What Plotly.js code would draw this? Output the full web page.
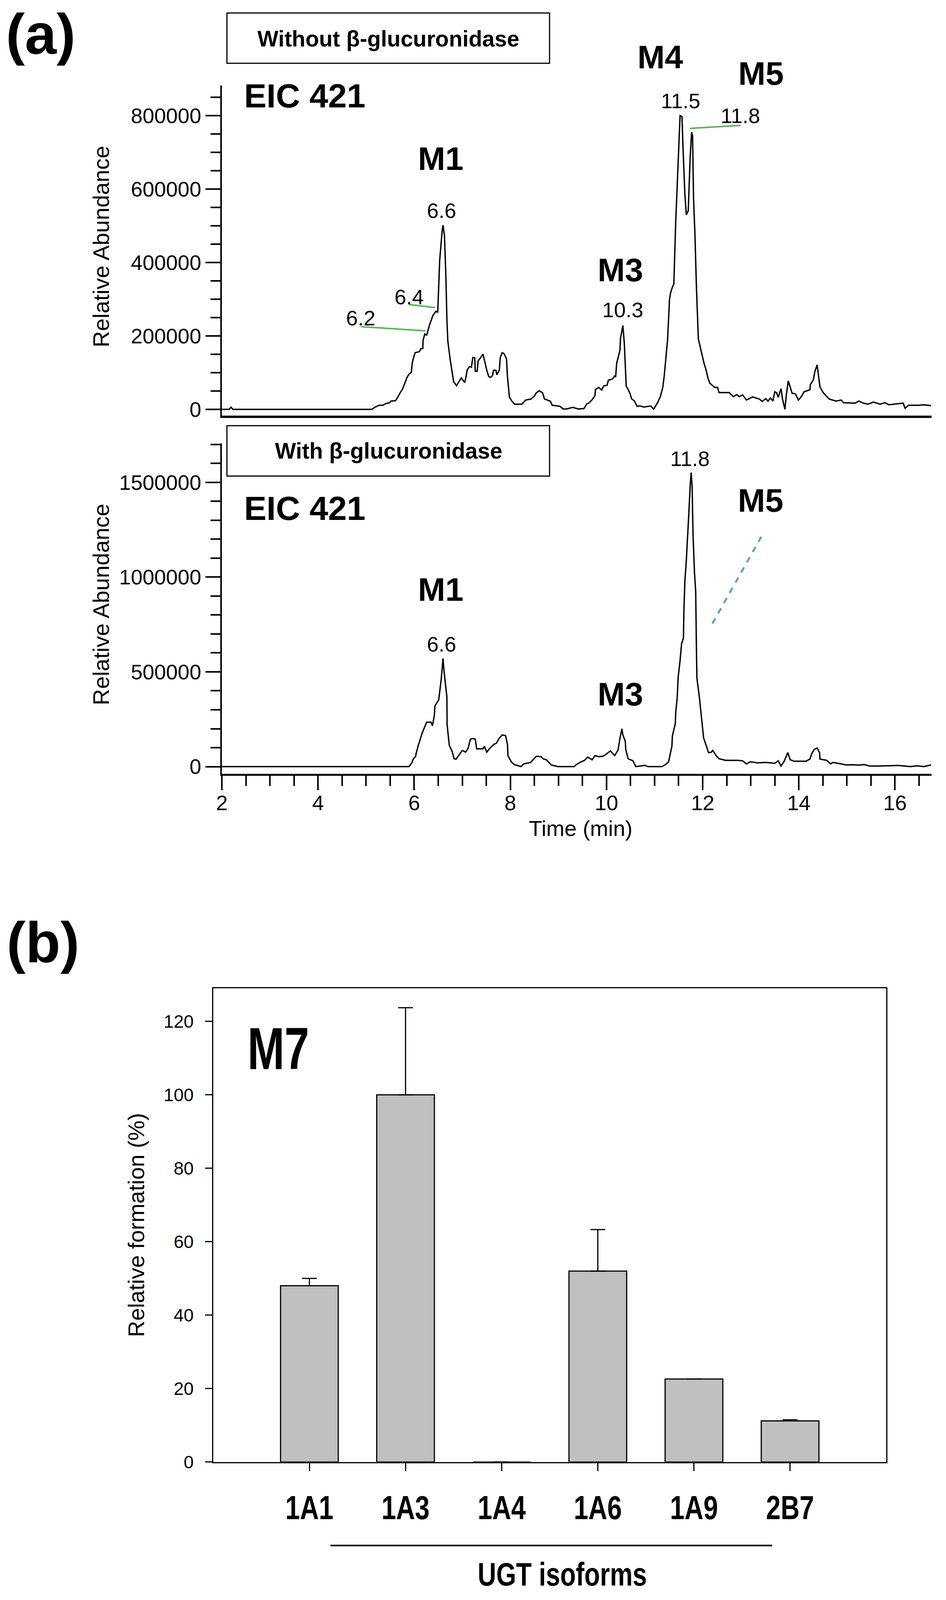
<!DOCTYPE html>
<html>
<head>
<meta charset="utf-8">
<script src="https://cdn.plot.ly/plotly-3.0.1.min.js"></script>
<style>
  html, body { margin: 0; padding: 0; background: #fff; overflow: hidden; }
</style>
</head>
<body>
<div id="chart"></div>
<script>
// EIC 421 without beta-glucuronidase (time in min, abundance)
const timeWithout = [
  2.00, 2.15, 2.19, 2.23, 5.05, 5.12, 5.18, 5.27, 5.35, 5.41, 5.49, 5.52, 5.61, 5.66, 5.72, 5.76,
  5.81, 5.85, 5.89, 5.94, 5.96, 5.98, 6.02, 6.11, 6.14, 6.18, 6.185, 6.22, 6.26, 6.32, 6.39, 6.45,
  6.49, 6.50, 6.53, 6.58, 6.60, 6.63, 6.66, 6.68, 6.70, 6.75, 6.80, 6.82, 6.88, 6.92, 6.98, 7.05,
  7.08, 7.10, 7.15, 7.19, 7.22, 7.26, 7.27, 7.31, 7.33, 7.38, 7.43, 7.47, 7.51, 7.55, 7.59, 7.63,
  7.65, 7.70, 7.72, 7.77, 7.79, 7.83, 7.87, 7.92, 7.94, 7.98, 8.03, 8.09, 8.24, 8.32, 8.43, 8.50,
  8.54, 8.60, 8.67, 8.71, 8.83, 8.87, 9.03, 9.10, 9.17, 9.30, 9.41, 9.53, 9.59, 9.64, 9.70, 9.76,
  9.77, 9.84, 9.90, 9.94, 10.01, 10.04, 10.12, 10.17, 10.19, 10.21, 10.28, 10.29, 10.34, 10.37, 10.41, 10.45,
  10.49, 10.52, 10.58, 10.63, 10.69, 10.78, 10.92, 10.98, 11.06, 11.12, 11.17, 11.20, 11.23, 11.27, 11.31, 11.33,
  11.37, 11.40, 11.44, 11.47, 11.50, 11.53, 11.57, 11.59, 11.63, 11.66, 11.70, 11.74, 11.77, 11.79, 11.81, 11.84,
  11.87, 11.91, 11.95, 12.00, 12.03, 12.07, 12.11, 12.15, 12.20, 12.25, 12.31, 12.34, 12.48, 12.55, 12.64, 12.71,
  12.76, 12.83, 12.91, 13.04, 13.18, 13.24, 13.31, 13.36, 13.41, 13.46, 13.50, 13.54, 13.57, 13.63, 13.66, 13.71,
  13.74, 13.78, 13.82, 13.86, 13.93, 13.99, 14.04, 14.11, 14.23, 14.24, 14.30, 14.33, 14.38, 14.44, 14.51, 14.58,
  14.63, 14.77, 14.88, 14.93, 15.17, 15.25, 15.34, 15.44, 15.55, 15.69, 15.79, 15.87, 16.06, 16.17, 16.21, 16.28,
  16.39, 16.50, 16.60, 16.75
];
const abundanceWithout = [
  0, 0, 6000, 0, 0, 0, 5600, 11000, 11000, 15800, 18000, 22500, 23500, 33600, 47700, 55900,
  72800, 86800, 95300, 100900, 126200, 137500, 154300, 157200, 165600, 165600, 188100, 205000, 202000, 230300, 255600, 266900,
  265000, 303400, 404600, 483400, 501400, 472100, 359500, 247000, 185200, 134600, 95300, 75600, 64400, 72800, 85700, 72800,
  89600, 106500, 116600, 114900, 141400, 140300, 103700, 103700, 131800, 140300, 150400, 129000, 106500, 89600, 86800, 92400,
  106500, 106500, 94100, 106500, 140300, 154300, 151500, 137500, 89600, 33600, 22500, 14000, 14000, 25300, 28100, 36500,
  45000, 50600, 45000, 28100, 22500, 11300, 8400, 1100, 1100, 5500, 1000, 2100, 14800, 17600, 26000, 37300,
  54200, 59800, 52500, 63700, 65400, 79500, 82300, 90700, 87900, 124500, 161100, 192000, 228600, 180700, 62600, 54200,
  42900, 28800, 23200, 9100, 9100, 6300, 9100, 600, 17600, 34500, 59800, 90700, 130100, 189200, 298900, 315800,
  332700, 341100, 512700, 614000, 715300, 799700, 796900, 715300, 585800, 529500, 540800, 687100, 754600, 743400, 574500, 473200,
  332700, 192000, 169500, 141300, 124500, 107600, 85100, 71000, 65400, 59800, 59800, 45700, 45700, 45700, 34500, 40100,
  34500, 39400, 25300, 33700, 28100, 21400, 29200, 22500, 30900, 22500, 47800, 45000, 32600, 56200, 28100, 0,
  39400, 77600, 60800, 43900, 42200, 25300, 32600, 47800, 53400, 67500, 79900, 101300, 121000, 60800, 45000, 34900,
  28100, 22500, 25300, 18100, 16900, 22500, 16900, 14100, 19700, 14100, 18100, 12400, 15800, 16900, 2800, 11200,
  11200, 11200, 12400, 10100
];

// EIC 421 with beta-glucuronidase
const timeWith = [
  2.00, 5.89, 5.95, 5.98, 6.03, 6.04, 6.08, 6.11, 6.14, 6.16, 6.22, 6.26, 6.35, 6.38, 6.42, 6.43,
  6.51, 6.56, 6.60, 6.62, 6.68, 6.685, 6.73, 6.79, 6.83, 6.87, 7.00, 7.07, 7.12, 7.17, 7.22, 7.27,
  7.30, 7.43, 7.46, 7.51, 7.57, 7.66, 7.71, 7.77, 7.83, 7.90, 7.94, 7.95, 8.02, 8.08, 8.22, 8.28,
  8.42, 8.48, 8.54, 8.64, 8.68, 8.75, 8.85, 8.99, 9.33, 9.36, 9.47, 9.54, 9.61, 9.70, 9.76, 9.84,
  9.93, 9.98, 10.08, 10.17, 10.24, 10.28, 10.32, 10.34, 10.39, 10.40, 10.45, 10.55, 10.61, 10.80, 10.86, 11.15,
  11.23, 11.29, 11.36, 11.37, 11.43, 11.44, 11.47, 11.49, 11.53, 11.56, 11.60, 11.61, 11.63, 11.66, 11.68, 11.71,
  11.74, 11.76, 11.78, 11.80, 11.83, 11.855, 11.87, 11.88, 11.93, 11.99, 12.02, 12.08, 12.12, 12.17, 12.21, 12.28,
  12.34, 12.48, 12.73, 12.83, 12.91, 12.99, 13.15, 13.31, 13.50, 13.57, 13.63, 13.70, 13.77, 13.82, 13.90, 14.15,
  14.23, 14.27, 14.32, 14.38, 14.43, 14.44, 14.58, 14.66, 14.71, 14.88, 14.98, 15.12, 15.25, 15.36, 15.47, 15.66,
  16.06, 16.33, 16.45, 16.60, 16.75
];
const abundanceWith = [
  0, 0, 19600, 39300, 54600, 68800, 107000, 131000, 150600, 172400, 210600, 234500, 234500, 216000, 270600, 319600,
  352300, 455900, 570300, 505000, 368700, 221500, 112500, 79800, 41600, 39300, 85200, 76500, 96100, 145200, 148500, 145200,
  94000, 94000, 107000, 76500, 96100, 117900, 123400, 150600, 167000, 163700, 117900, 57900, 25200, 11000, 0, 14200,
  21800, 39300, 54600, 52400, 41500, 36000, 8700, 0, 0, 8700, 25000, 32600, 50000, 36000, 57900, 52400,
  54600, 63300, 83000, 57900, 87300, 150600, 199700, 167000, 134300, 90700, 41600, 30700, 0, 6500, 0, 0,
  11000, 25200, 107000, 161400, 226900, 286800, 363100, 472100, 559300, 646500, 679200, 826400, 979000, 1088000, 1175300, 1327900,
  1480500, 1551400, 1480500, 1218900, 1022700, 923200, 619300, 466800, 368700, 216000, 150600, 107000, 74300, 74300, 85200, 57900,
  41600, 32900, 32900, 30700, 14400, 25300, 19800, 22000, 17600, 30700, 3300, 30700, 74300, 36200, 28600, 28600,
  39600, 69000, 90700, 98300, 74300, 39600, 33100, 14400, 22000, 14400, 8900, 10000, 7800, 11000, 3300, 3300,
  6000, 0, 4000, 0, 8700
];

// (b) M7 formation by UGT isoform
const isoforms = ['1A1', '1A3', '1A4', '1A6', '1A9', '2B7'];
const formation = [48, 100, 0, 52, 22.6, 11.2];
const formationErr = [2, 23.7, 0, 11.3, 0, 0.3];

// positions below are measured on the 2422 x 4198 figure and turned into paper fractions;
// the plot itself is sized to the visible window so the whole figure stays in view
const REF_W = 2422, REF_H = 4198;
const W = window.innerWidth || REF_W;
const H = Math.min(window.innerHeight || REF_H, REF_H);
const px = v => v / REF_W;
const py = v => 1 - v / REF_H;

const SANS = 'Liberation Sans, Arial, Helvetica, sans-serif';

function label(text, x, y, size, opts) {
  opts = opts || {};
  return {
    text: text, xref: 'paper', yref: 'paper', x: px(x), y: py(y),
    xanchor: 'center', yanchor: 'middle', showarrow: false,
    textangle: opts.angle || 0,
    font: {family: SANS, size: size, color: '#000', weight: opts.bold ? 'bold' : 'normal'}
  };
}

function seg(x0, y0, x1, y1, color, width, dash) {
  return {type: 'line', xref: 'paper', yref: 'paper', x0: px(x0), y0: py(y0), x1: px(x1), y1: py(y1),
    line: {color: color, width: width, dash: dash || 'solid'}};
}

function box(x0, y0, x1, y1) {
  return {type: 'rect', xref: 'paper', yref: 'paper', x0: px(x0), y0: py(y0), x1: px(x1), y1: py(y1),
    line: {color: '#000', width: 3}, fillcolor: 'rgba(0,0,0,0)'};
}

const traces = [
  {x: timeWithout, y: abundanceWithout, xaxis: 'x', yaxis: 'y', type: 'scatter', mode: 'lines',
   line: {color: '#000', width: 3.5}, hoverinfo: 'skip'},
  {x: timeWith, y: abundanceWith, xaxis: 'x2', yaxis: 'y2', type: 'scatter', mode: 'lines',
   line: {color: '#000', width: 3.5}, hoverinfo: 'skip'},
  {x: isoforms, y: formation, xaxis: 'x3', yaxis: 'y3', type: 'bar', width: 0.6,
   marker: {color: '#c0c0c0', line: {color: '#000', width: 3}},
   error_y: {type: 'data', array: formationErr, arrayminus: isoforms.map(() => 0), symmetric: false,
             color: '#000', thickness: 3, width: 19}}
];

const tickFont = {family: SANS, size: 54, color: '#000'};
const timeRange = [2, 16.76];

const layout = {
  width: W, height: H,
  margin: {l: 0, r: 0, t: 0, b: 0},
  paper_bgcolor: '#fff', plot_bgcolor: 'rgba(0,0,0,0)',
  showlegend: false,
  xaxis: {domain: [px(568), px(2385)], anchor: 'y', range: timeRange, showline: true, linecolor: '#000',
          linewidth: 5.5, ticks: '', showticklabels: false, showgrid: false, zeroline: false},
  yaxis: {domain: [py(1091), py(224)], anchor: 'x', range: [-17600, 882000], showline: true, linecolor: '#000',
          linewidth: 4, ticks: 'outside', ticklen: 38, tickwidth: 4, tickcolor: '#000',
          tick0: 0, dtick: 200000, tickformat: 'd', tickfont: tickFont, showgrid: false, zeroline: false,
          minor: {ticks: 'outside', dtick: 50000, ticklen: 25, tickwidth: 4, tickcolor: '#000'}},
  xaxis2: {domain: [px(568), px(2385)], anchor: 'y2', range: timeRange, showline: true, linecolor: '#000',
           linewidth: 5.5, ticks: 'outside', ticklen: 37, tickwidth: 4, tickcolor: '#000',
           tick0: 2, dtick: 2, tickfont: tickFont, showgrid: false, zeroline: false,
           minor: {ticks: 'outside', dtick: 0.5, ticklen: 26, tickwidth: 4, tickcolor: '#000'}},
  yaxis2: {domain: [py(2030), py(1163)], anchor: 'x2', range: [-37400, 1706400], showline: true, linecolor: '#000',
           linewidth: 4, ticks: 'outside', ticklen: 38, tickwidth: 4, tickcolor: '#000',
           tick0: 0, dtick: 500000, tickformat: 'd', tickfont: tickFont, showgrid: false, zeroline: false,
           minor: {ticks: 'outside', dtick: 100000, ticklen: 25, tickwidth: 4, tickcolor: '#000'}},
  xaxis3: {domain: [px(546), px(2269)], anchor: 'y3', type: 'category', range: [-1, 6],
           showline: true, mirror: true, linecolor: '#000', linewidth: 3,
           ticks: 'outside', ticklen: 20, tickwidth: 3, tickcolor: '#000', ticklabelstandoff: 20,
           tickfont: {family: SANS, size: 86, color: '#000', weight: 'bold'},
           showgrid: false, zeroline: false},
  yaxis3: {domain: [py(3836), py(2593)], anchor: 'x3', range: [0, 129], showline: true, mirror: true,
           linecolor: '#000', linewidth: 3, ticks: 'outside', ticklen: 18, tickwidth: 3, tickcolor: '#000',
           tick0: 0, dtick: 20, ticklabelstandoff: 20, tickfont: {family: SANS, size: 46, color: '#000'},
           showgrid: false, zeroline: false},
  shapes: [
    box(581, 34, 1407, 166),
    box(581, 1117, 1407, 1249),
    seg(924, 857, 1089, 868, '#55b755', 4),
    seg(1047, 799, 1114, 807, '#55b755', 4),
    seg(1766, 337, 1896, 329, '#55b755', 4),
    seg(1824, 1636, 1952, 1403, '#5b9bd5', 5, 'dash'),
    seg(846, 4055, 1977, 4055, '#000', 4)
  ],
  annotations: [
    label('(a)', 104, 90, 146, {bold: true}),
    label('(b)', 110, 2473, 146, {bold: true}),
    label('Without β-glucuronidase', 994, 101, 57, {bold: true}),
    label('With β-glucuronidase', 995, 1183, 57, {bold: true}),
    label('EIC 421', 780, 251, 86, {bold: true}),
    label('EIC 421', 780, 1333, 86, {bold: true}),
    label('M1', 1128, 416, 84, {bold: true}),
    label('M1', 1128, 1547, 84, {bold: true}),
    label('M3', 1588, 708, 84, {bold: true}),
    label('M3', 1588, 1821, 84, {bold: true}),
    label('M4', 1691, 150, 84, {bold: true}),
    label('M5', 1948, 193, 84, {bold: true}),
    label('M5', 1947, 1313, 84, {bold: true}),
    label('6.6', 1130, 552, 54),
    label('6.6', 1130, 1690, 54),
    label('6.4', 1047, 779, 54),
    label('6.2', 923, 834, 54),
    label('10.3', 1594, 813, 54),
    label('11.5', 1742, 264, 54),
    label('11.8', 1895, 303, 54),
    label('11.8', 1767, 1203, 54),
    label('Relative Abundance', 258, 647, 58, {angle: -90}),
    label('Relative Abundance', 258, 1586, 58, {angle: -90}),
    label('Time (min)', 1486, 2173, 56),
    label('Relative formation (%)', 349, 3214, 58, {angle: -90}),
    label('M7', 712, 2751, 152, {bold: true}),
    label('UGT isoforms', 1439, 4130, 84, {bold: true})
  ]
};

// the bold labels of panel (b) are set in a condensed face in the original;
// no narrow font is installed, so squeeze the glyphs horizontally instead
function condense(el, ratio) {
  const len = el.getComputedTextLength();
  el.setAttribute('textLength', (len * ratio).toFixed(1));
  el.setAttribute('lengthAdjust', 'spacingAndGlyphs');
}

Plotly.newPlot('chart', traces, layout, {staticPlot: true, displayModeBar: false}).then(gd => {
  gd.querySelectorAll('g.x3tick text').forEach(el => condense(el, 0.78));
  gd.querySelectorAll('text.annotation-text').forEach(el => {
    if (el.textContent === 'M7') condense(el, 0.75);
    if (el.textContent === 'UGT isoforms') condense(el, 0.78);
  });
  // time labels sit closer to the ticks in the original
  gd.querySelectorAll('g.x2tick text').forEach(el => {
    const t = el.getAttribute('transform') || '';
    el.setAttribute('transform', t + ' translate(0,-14)');
  });
});
</script>
</body>
</html>
